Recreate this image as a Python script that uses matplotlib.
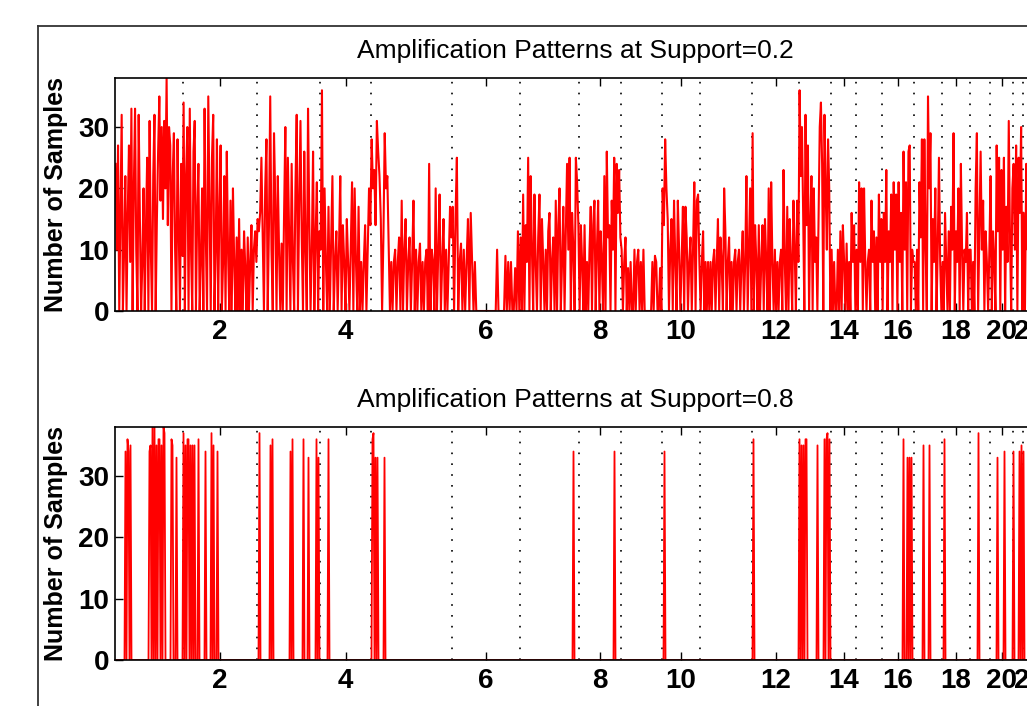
import numpy as np
import matplotlib
matplotlib.use("Agg")
import matplotlib.pyplot as plt
from matplotlib.lines import Line2D

plt.rcParams['font.family'] = ['Liberation Sans', 'DejaVu Sans']

# bins per chromosome (1..22)
chrom_len = [68, 74, 63, 51, 81, 68, 59, 42, 41, 38, 52, 47, 32, 25, 26, 32, 28, 28, 20, 23, 10, 13]

# support = 0.2, values read per chromosome, left to right
chr01 = [24, 10, 27, 0, 16, 32, 0, 10, 22, 0, 16, 27, 8, 33, 0, 20, 33, 10, 0, 32, 15, 0, 8, 20, 0, 14, 25, 0,
         31, 10, 0, 22, 32, 0, 15, 26, 35, 18, 30, 15, 31, 20, 38, 14, 30, 27, 0, 22, 29, 10, 0, 28, 13, 0, 24, 9]
chr02 = [34, 0, 22, 30, 0, 33, 10, 0, 26, 31, 0, 16, 24, 0, 8, 20, 0, 33, 12, 0, 35, 18, 0, 25, 32, 0, 10, 28,
         0, 16, 27, 0, 8, 22, 0, 26, 10, 0, 18, 0, 20, 8, 0, 12, 0, 15, 0, 10, 0, 13, 7, 0, 12, 0, 8, 14, 0, 10, 13, 8]
chr03 = [15, 13, 16, 25, 12, 0, 20, 28, 0, 14, 35, 10, 0, 29, 18, 0, 22, 10, 0, 11, 0, 16, 30, 0, 25, 12, 0, 24,
         8, 0, 20, 32, 0, 18, 31, 12, 0, 26, 10, 0, 33, 15, 0, 10, 26, 0, 12, 21, 0, 13]
chr04 = [10, 36, 0, 20, 8, 0, 17, 0, 11, 22, 0, 8, 13, 0, 10, 22, 0, 14, 8, 0, 15, 8, 0, 10, 21, 0, 20, 8, 0,
         17, 0, 8, 0, 8, 14, 0, 10, 20, 14]
chr05 = [28, 20, 23, 14, 31, 26, 22, 15, 0, 12, 29, 20, 22, 11, 0, 8, 0, 8, 10, 0, 8, 12, 0, 18, 0, 10, 15, 0, 8,
         12, 0, 8, 18, 0, 10, 0, 8, 11, 0, 8, 0, 8, 10, 0, 24, 0, 10, 8, 0, 20, 0, 10, 19, 0, 8, 15, 0, 10, 0, 8, 17, 12]
chr06 = [17, 0, 15, 25, 0, 8, 11, 0, 10, 0, 8, 15, 0, 16, 8, 0, 8, 0, 0, 0, 0, 0, 0, 0, 0, 0, 0, 0, 0, 0, 0, 0,
         10, 0, 0, 0, 0, 0, 9, 0, 8, 0, 8, 0, 0, 7, 0, 13, 0]
chr07 = [12, 0, 19, 0, 14, 8, 25, 0, 22, 10, 0, 19, 8, 0, 12, 19, 0, 15, 8, 0, 10, 0, 13, 16, 0, 8, 12, 0, 18, 0,
         14, 20, 0, 8, 17, 0, 13, 24, 10, 25, 0, 16, 10, 0, 25, 21, 14]
chr08 = [0, 14, 8, 0, 14, 0, 8, 0, 10, 17, 0, 14, 18, 0, 10, 18, 0, 13, 8, 0, 22, 0, 26, 12, 14, 0, 18, 10, 25,
         0, 24, 16, 23, 12]
chr09 = [10, 0, 8, 12, 0, 7, 0, 8, 0, 0, 10, 0, 8, 10, 0, 8, 0, 10, 0, 0, 0, 0, 0, 0, 8, 0, 9, 8, 0, 0, 7, 0]
chr10 = [20, 14, 28, 20, 15, 0, 10, 15, 0, 18, 8, 0, 18, 10, 0, 8, 17, 0, 17, 12, 0, 8, 12, 0, 10, 21, 0, 18, 19, 8]
chr11 = [0, 8, 13, 0, 8, 0, 8, 0, 8, 0, 8, 10, 0, 8, 15, 0, 12, 8, 0, 20, 13, 0, 8, 12, 0, 8, 0, 8, 10, 0, 8, 10,
         0, 8, 13, 0, 8, 22, 0, 10, 20, 0]
chr12 = [29, 0, 14, 8, 0, 14, 0, 8, 14, 0, 15, 8, 0, 20, 0, 21, 8, 0, 10, 0, 8, 0, 8, 10, 0, 23, 8, 0, 17, 0, 15,
         8, 0, 18, 10, 0, 18, 8]
chr13 = [36, 22, 30, 16, 0, 32, 14, 27, 0, 14, 22, 0, 20, 8, 12, 0, 15, 30, 34, 24, 0, 32, 20, 10, 28, 20, 0]
chr14 = [10, 0, 8, 0, 0, 10, 0, 13, 0, 14, 8, 0, 11, 0, 8, 0, 16, 8, 14, 0]
chr15 = [10, 0, 21, 8, 20, 0, 20, 8, 0, 8, 10, 0, 18, 8, 13, 0, 12, 0, 19, 8, 15]
chr16 = [0, 16, 8, 23, 0, 13, 8, 19, 0, 21, 10, 19, 0, 21, 8, 16, 0, 26, 10, 21, 0, 26, 27, 0, 10, 8]
chr17 = [8, 0, 10, 0, 21, 12, 28, 0, 28, 11, 0, 35, 20, 29, 0, 15, 8, 20, 0, 10, 25, 8, 0]
chr18 = [8, 0, 16, 8, 0, 13, 0, 17, 10, 29, 0, 13, 8, 20, 0, 24, 10, 0, 10, 8, 16, 0, 10]
chr19 = [10, 0, 8, 0, 20, 29, 0, 13, 26, 10, 18, 0, 13, 8, 0, 10]
chr20 = [22, 0, 13, 8, 0, 27, 13, 25, 0, 23, 10, 25, 0, 17, 8, 31, 12, 0, 20]
chr21 = [24, 10, 27, 0, 25, 16, 30, 0]
chr22 = [16, 0, 24, 10, 20, 0, 18, 12, 0, 15]
support02 = [chr01, chr02, chr03, chr04, chr05, chr06, chr07, chr08, chr09, chr10, chr11,
             chr12, chr13, chr14, chr15, chr16, chr17, chr18, chr19, chr20, chr21, chr22]

# support = 0.8: bins that are non-zero and their counts
peak_bins = [10, 12, 13, 15, 34, 35, 37, 39, 41, 43, 44, 46, 48, 49, 56, 57, 61,
             68, 70, 72, 73, 75, 77, 79, 83, 90, 96, 98, 102,
             144, 155, 157, 175, 177, 188, 193, 201, 203, 213,
             257, 258, 260, 262, 269, 458, 499, 549,
             638, 684, 686, 688, 690, 691, 702, 709, 711, 712, 714,
             788, 792, 794, 796, 808, 814, 829, 863, 882, 889, 898, 904, 906, 908]
peak_vals = [34, 36, 34, 35, 34, 35, 38, 38, 35, 36, 36, 35, 38, 37, 36, 35, 33,
             37, 35, 36, 36, 35, 35, 35, 36, 34, 37, 35, 34,
             37, 35, 36, 34, 36, 36, 33, 36, 33, 36,
             36, 37, 33, 33, 33, 34, 34, 34,
             36, 36, 35, 35, 36, 36, 35, 36, 36, 37, 36,
             36, 33, 33, 33, 35, 35, 36, 37, 33, 34, 34, 34, 35, 34]

bounds = np.concatenate([[0], np.cumsum(chrom_len)])
total = bounds[-1]

# x positions for support=0.2 series, spread evenly inside each chromosome
xs, ys = [], []
for i, vals in enumerate(support02):
    n = len(vals)
    step = chrom_len[i] / n
    xs.append(bounds[i] + step * (np.arange(n) + 0.5))
    ys.append(vals)
x02 = np.concatenate(xs)
y02 = np.concatenate(ys)

x08 = np.arange(total) + 0.5
y08 = np.zeros(total)
y08[peak_bins] = peak_vals

centers = (bounds[:-1] + bounds[1:]) / 2
tick_pos = centers[1::2]
tick_lab = [str(c) for c in range(2, 23, 2)]

W, H = 1027, 706
fig = plt.figure(figsize=(W / 100, H / 100), dpi=100)

# outer frame of the screenshot
fig.add_artist(Line2D([38 / W, 38 / W], [0, 1 - 26 / H], color='#333333', lw=1.3))
fig.add_artist(Line2D([38 / W, 1], [1 - 26 / H, 1 - 26 / H], color='#333333', lw=1.3))

panels = [(78, 311, x02, y02, 'Amplification Patterns at Support=0.2', 1.5),
          (427, 660, x08, y08, 'Amplification Patterns at Support=0.8', 1.3)]

for top, bot, x, y, title, lw in panels:
    ax = fig.add_axes([115 / W, 1 - bot / H, 921 / W, (bot - top) / H])
    for b in bounds[1:-1]:
        ax.axvline(b, color='black', lw=1.2, linestyle=(0, (1, 5.5)), zorder=1)
    ax.plot(x, y, color='red', lw=lw, zorder=2)
    ax.set_xlim(0, total)
    ax.set_ylim(0, 38)
    ax.set_xticks(tick_pos)
    ax.set_xticklabels(tick_lab)
    ax.set_yticks([0, 10, 20, 30])
    ax.tick_params(direction='in', top=True, right=True, length=6, width=1,
                   labelsize=20)
    ax.tick_params(axis='x', pad=6)
    ax.tick_params(axis='y', pad=4)
    for lab in ax.get_xticklabels() + ax.get_yticklabels():
        lab.set_fontweight('bold')
    for s in ax.spines.values():
        s.set_linewidth(1.2)
        s.set_zorder(3)
    ax.set_title(title, fontsize=19, pad=14.5)
    fig.text(56 / W, 1 - (top + bot) / 2 / H, 'Number of Samples', rotation=90,
             ha='center', va='center', fontsize=18, fontweight='bold')

fig.savefig('out.png', dpi=100)
